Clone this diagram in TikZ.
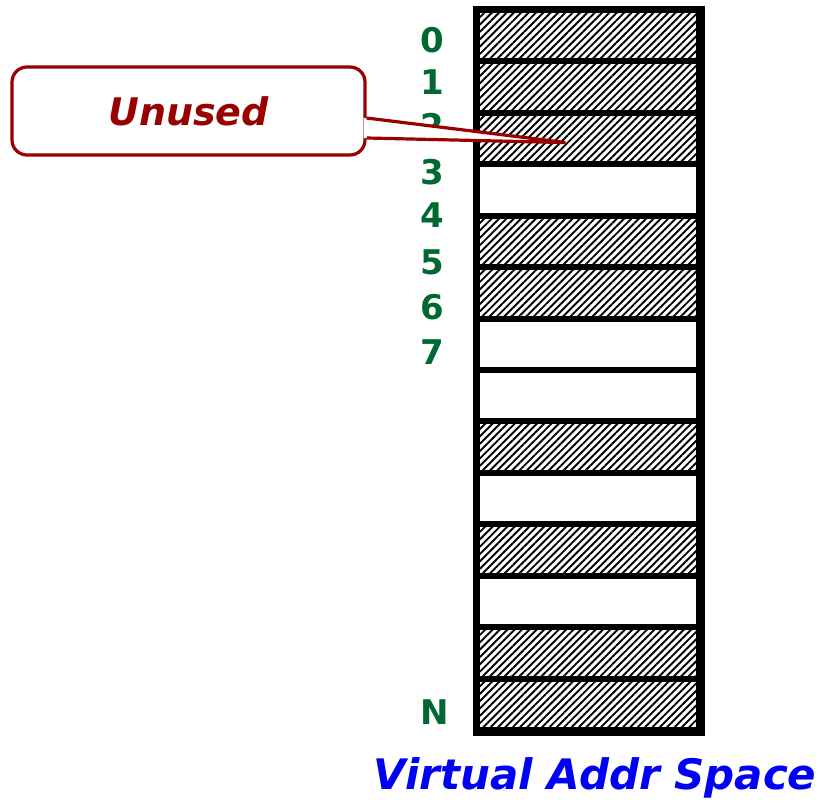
\documentclass[tikz,border=0pt]{standalone}
\usepackage{fontspec}
\setmainfont{DejaVu Sans}
\usetikzlibrary{patterns.meta,calc}
\definecolor{numgreen}{RGB}{0,105,50}
\definecolor{calloutred}{RGB}{153,0,0}
\definecolor{titleblue}{RGB}{0,0,245}
\tikzset{
  cell/.style={draw=black, line width=6pt, minimum width=222pt, minimum height=51.5pt, inner sep=0pt, fill=white},
  used/.style={cell, pattern={Lines[angle=45, distance=5.2pt, line width=1.9pt]}},
  free/.style={cell},
  pagenum/.style={text=numgreen, font=\fontsize{34}{36}\selectfont\bfseries, inner sep=0pt},
  callout/.style={draw=calloutred, line width=3.2pt, fill=white, rounded corners=15pt,
    minimum width=353pt, minimum height=88pt, inner sep=0pt,
    text=calloutred, font=\fontsize{38}{40}\selectfont\bfseries\itshape},
  pointer/.style={draw=calloutred, line width=3.2pt, line join=miter},
  caption/.style={text=titleblue, font=\fontsize{42}{44}\selectfont\bfseries\itshape, inner sep=0pt}
}
\begin{document}
\begin{tikzpicture}[x=1pt, y=-1pt]
\useasboundingbox (0,0) rectangle (823,806);
\fill[white] (0,0) rectangle (823,806);

% page cells of the address space, top (page 0) to bottom (page N)
\foreach \i/\kind in {0/used,1/used,2/used,3/free,4/used,5/used,6/free,
                      7/free,8/used,9/free,10/used,11/free,12/used,13/used}{
  \node[\kind] (r\i) at (587.5, {10 + 51.43*\i + 25.7}) {};
}
% outer frame
\draw[line width=6pt] (r0.north west) rectangle (r13.south east);

% page numbers
\foreach \n/\y in {0/40,1/82,2/126,3/172,4/215,5/262,6/307,7/352}{
  \node[pagenum] (l\n) at (432,\y) {\n};
}
\node[pagenum] (lN) at (435,712) {N};

% callout pointing at page 2
\node[callout] (unused) at (188.5,111) {Unused};
\coordinate (tip) at ($(r2.center)+(-22,4)$);
\coordinate (pa) at ($(unused.east)+(0,7)$);
\coordinate (pb) at ($(unused.east)+(0,27)$);
\fill[white] ($(pa)+(-3,0)$) -- (tip) -- ($(pb)+(-3,0)$) -- cycle;
\draw[pointer] (pa) -- (tip) -- (pb);

% caption
\node[caption] (title) at (595,778) {Virtual Addr Space};
\end{tikzpicture}
\end{document}
